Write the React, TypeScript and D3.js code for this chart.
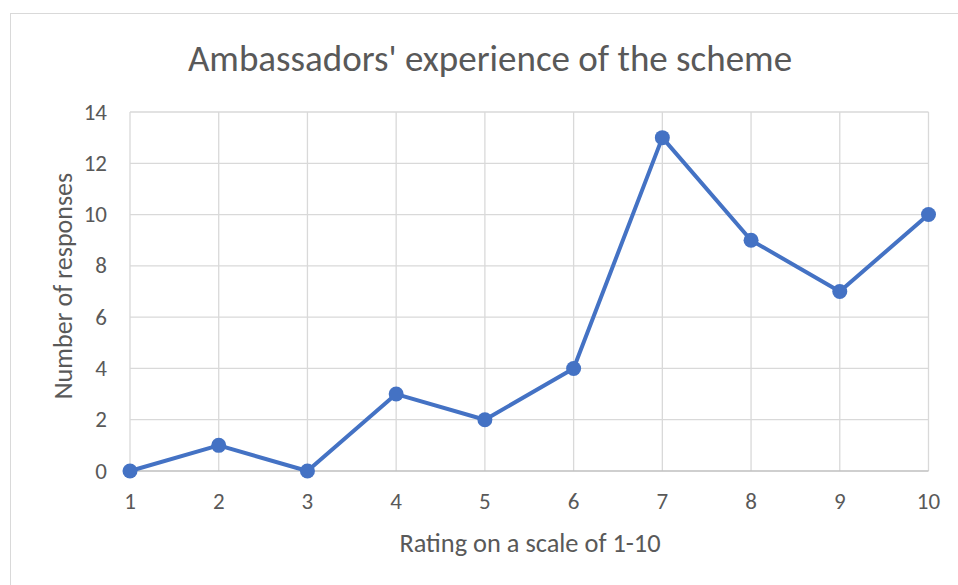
import React, { useEffect, useRef } from 'react';
import * as d3 from 'd3';

const ratings = [1, 2, 3, 4, 5, 6, 7, 8, 9, 10];
const responses = [0, 1, 0, 3, 2, 4, 13, 9, 7, 10];
const yTicks = [0, 2, 4, 6, 8, 10, 12, 14];

const title = "Ambassadors' experience of the scheme";
const xTitle = 'Rating on a scale of 1-10';
const yTitle = 'Number of responses';

const width = 958;
const height = 585;
const font = 'Carlito, Calibri, Lato, sans-serif';

export default function App() {
  const ref = useRef<SVGSVGElement>(null);

  useEffect(() => {
    const svg = d3.select(ref.current);
    svg.selectAll('*').remove();

    const left = 130, right = 928.5, top = 112, bottom = 471;

    // chart frame
    svg.append('rect')
      .attr('x', 10.5).attr('y', 13.5)
      .attr('width', width + 20).attr('height', height + 20)
      .attr('fill', '#fff').attr('stroke', '#d9d9d9');

    const x = d3.scaleLinear().domain([1, 10]).range([left, right]);
    const y = d3.scaleLinear().domain([0, 14]).range([bottom, top]);

    // grid
    svg.append('g').selectAll('line')
      .data(yTicks.slice(1))
      .join('line')
      .attr('x1', left).attr('x2', right)
      .attr('y1', d => y(d)).attr('y2', d => y(d))
      .attr('stroke', '#d9d9d9').attr('stroke-width', 1.3);

    svg.append('g').selectAll('line')
      .data(ratings)
      .join('line')
      .attr('x1', d => x(d)).attr('x2', d => x(d))
      .attr('y1', top).attr('y2', bottom)
      .attr('stroke', '#d9d9d9').attr('stroke-width', 1.3);

    // x axis line
    svg.append('line')
      .attr('x1', left).attr('x2', right)
      .attr('y1', bottom).attr('y2', bottom)
      .attr('stroke', '#bfbfbf').attr('stroke-width', 1.3);

    // tick labels
    svg.append('g').selectAll('text')
      .data(yTicks)
      .join('text')
      .attr('x', 107).attr('y', d => y(d) + 7.5)
      .attr('text-anchor', 'end')
      .attr('font-family', font).attr('font-size', 23)
      .attr('fill', '#595959')
      .text(d => d);

    svg.append('g').selectAll('text')
      .data(ratings)
      .join('text')
      .attr('x', d => x(d)).attr('y', 509)
      .attr('text-anchor', 'middle')
      .attr('font-family', font).attr('font-size', 23)
      .attr('fill', '#595959')
      .text(d => d);

    // titles
    svg.append('text')
      .attr('x', 490).attr('y', 71)
      .attr('text-anchor', 'middle')
      .attr('font-family', font).attr('font-size', 37)
      .attr('fill', '#595959')
      .text(title);

    svg.append('text')
      .attr('x', 530).attr('y', 552)
      .attr('text-anchor', 'middle')
      .attr('font-family', font).attr('font-size', 26.4)
      .attr('fill', '#595959')
      .text(xTitle);

    svg.append('text')
      .attr('transform', `translate(72,286) rotate(-90)`)
      .attr('text-anchor', 'middle')
      .attr('font-family', font).attr('font-size', 26)
      .attr('fill', '#595959')
      .text(yTitle);

    // series
    const line = d3.line<number>()
      .x((_, i) => x(ratings[i]))
      .y(d => y(d));

    svg.append('path')
      .datum(responses)
      .attr('d', line)
      .attr('fill', 'none')
      .attr('stroke', '#4472c4')
      .attr('stroke-width', 4)
      .attr('stroke-linejoin', 'round');

    svg.append('g').selectAll('circle')
      .data(responses)
      .join('circle')
      .attr('cx', (_, i) => x(ratings[i]))
      .attr('cy', d => y(d))
      .attr('r', 7.5)
      .attr('fill', '#4472c4');
  }, []);

  return (
    <svg ref={ref} width={width} height={height}
      style={{ position: 'absolute', left: 0, top: 0, display: 'block' }} />
  );
}
